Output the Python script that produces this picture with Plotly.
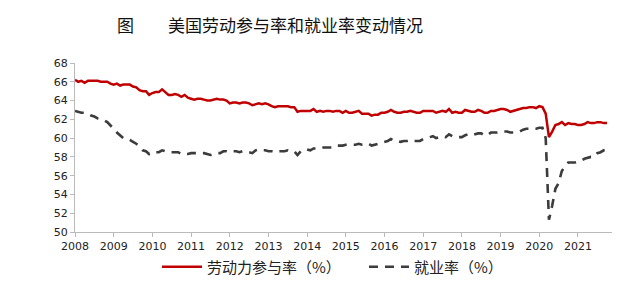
import plotly.graph_objects as go

start_year = 2008
# Monthly data, Jan 2008 - Oct 2021
lfpr = [
    66.2, 66.0, 66.1, 65.9, 66.1, 66.1, 66.1, 66.1, 66.0, 66.0, 66.0, 65.8,
    65.7, 65.8, 65.6, 65.7, 65.7, 65.7, 65.5, 65.4, 65.1, 65.0, 65.0, 64.6,
    64.8, 64.9, 64.9, 65.2, 64.9, 64.6, 64.6, 64.7, 64.6, 64.4, 64.6, 64.3,
    64.2, 64.1, 64.2, 64.2, 64.1, 64.0, 64.0, 64.1, 64.2, 64.1, 64.1, 64.0,
    63.7, 63.8, 63.8, 63.7, 63.8, 63.8, 63.7, 63.5, 63.6, 63.7, 63.6, 63.7,
    63.6, 63.4, 63.3, 63.4, 63.4, 63.4, 63.4, 63.3, 63.3, 62.8, 62.9, 62.9,
    62.9, 62.9, 63.1, 62.8, 62.9, 62.8, 62.9, 62.9, 62.8, 62.9, 62.9, 62.7,
    62.9, 62.7, 62.7, 62.8, 62.9, 62.6, 62.6, 62.6, 62.4, 62.5, 62.5, 62.7,
    62.7, 62.8, 63.0, 62.8, 62.7, 62.7, 62.8, 62.8, 62.9, 62.8, 62.7, 62.7,
    62.9, 62.9, 62.9, 62.9, 62.7, 62.8, 62.9, 62.8, 63.1, 62.7, 62.8, 62.7,
    62.7, 63.0, 62.9, 62.8, 62.8, 63.0, 62.9, 62.7, 62.7, 62.9, 62.9, 63.0,
    63.1, 63.1, 63.0, 62.8, 62.9, 63.0, 63.1, 63.2, 63.2, 63.3, 63.3, 63.2,
    63.4, 63.3, 62.6, 60.1, 60.7, 61.4, 61.5, 61.7, 61.4, 61.6, 61.5, 61.5,
    61.4, 61.4, 61.5, 61.7, 61.6, 61.6, 61.7, 61.7, 61.6, 61.6,
]
emp = [
    62.9, 62.8, 62.7, 62.7, 62.6, 62.4, 62.3, 62.1, 62.0, 61.9, 61.7, 61.4,
    61.0, 60.6, 60.3, 60.0, 59.9, 59.8, 59.6, 59.4, 59.1, 58.7, 58.6, 58.3,
    58.5, 58.5, 58.5, 58.7, 58.6, 58.5, 58.5, 58.5, 58.5, 58.3, 58.3, 58.3,
    58.4, 58.4, 58.4, 58.4, 58.4, 58.3, 58.2, 58.3, 58.4, 58.4, 58.6, 58.6,
    58.5, 58.6, 58.6, 58.5, 58.6, 58.6, 58.5, 58.4, 58.7, 58.8, 58.7, 58.7,
    58.6, 58.6, 58.5, 58.6, 58.6, 58.6, 58.7, 58.6, 58.6, 58.2, 58.6, 58.6,
    58.8, 58.7, 58.9, 58.9, 58.9, 59.0, 59.0, 59.0, 59.0, 59.2, 59.2, 59.2,
    59.3, 59.3, 59.3, 59.3, 59.4, 59.3, 59.3, 59.4, 59.2, 59.3, 59.4, 59.5,
    59.6, 59.7, 59.9, 59.7, 59.7, 59.6, 59.7, 59.7, 59.8, 59.7, 59.7, 59.7,
    59.9, 60.0, 60.1, 60.2, 60.0, 60.1, 60.2, 60.1, 60.4, 60.2, 60.1, 60.1,
    60.1, 60.3, 60.4, 60.3, 60.4, 60.5, 60.5, 60.3, 60.3, 60.6, 60.6, 60.6,
    60.7, 60.7, 60.7, 60.6, 60.6, 60.6, 60.7, 60.9, 61.0, 61.0, 61.0, 61.0,
    61.1, 61.1, 60.0, 51.3, 52.8, 54.6, 55.2, 56.5, 57.0, 57.4, 57.4, 57.4,
    57.5, 57.6, 57.8, 57.9, 58.0, 58.0, 58.4, 58.5, 58.7, 58.8,
]
x_years = [start_year + i / 12 for i in range(len(lfpr))]
tick_years = list(range(2008, 2022))
y_ticks = list(range(50, 70, 2))

title_text = "图　　美国劳动参与率和就业率变动情况"
name_lfpr = "劳动力参与率（%）"
name_emp = "就业率（%）"

cjk = "Noto Sans CJK SC"

fig = go.Figure()
fig.add_trace(go.Scatter(x=x_years, y=lfpr, mode="lines", name=name_lfpr,
                         line=dict(color="#C00000", width=2.5)))
fig.add_trace(go.Scatter(x=x_years, y=emp, mode="lines", name=name_emp,
                         line=dict(color="#3c3c3c", width=2.6, dash="9px,7px")))

fig.update_layout(
    width=640, height=281,
    margin=dict(l=75, r=28, t=63, b=49, autoexpand=False),
    paper_bgcolor="white", plot_bgcolor="white",
    showlegend=True,
    legend=dict(orientation="h", x=(157 - 75) / 537, xanchor="left", y=-0.207, yanchor="middle",
                font=dict(family=cjk, size=15, color="#222"), itemwidth=40,
                entrywidth=152, entrywidthmode="pixels",
                traceorder="normal"),
    annotations=[dict(text=title_text, x=(270 - 75) / 537, y=1.23, xref="paper", yref="paper",
                      showarrow=False, xanchor="center", yanchor="middle",
                      font=dict(family=cjk, size=17, color="#111"))],
)
fig.update_xaxes(range=[2008, 2021.88], tickvals=tick_years, ticktext=[str(t) for t in tick_years],
                 showgrid=False, zeroline=False, showline=True, linecolor="#bbbbbb", linewidth=1,
                 ticks="outside", ticklen=4, tickcolor="#bbbbbb",
                 tickfont=dict(family="DejaVu Sans", size=11, color="#222"))
fig.update_yaxes(range=[50, 68], tickvals=y_ticks, showgrid=False, zeroline=False,
                 showline=True, linecolor="#bbbbbb", linewidth=1,
                 ticks="outside", ticklen=4, tickcolor="#bbbbbb",
                 tickfont=dict(family="DejaVu Sans", size=11, color="#222"))

fig.write_html("out.html")
